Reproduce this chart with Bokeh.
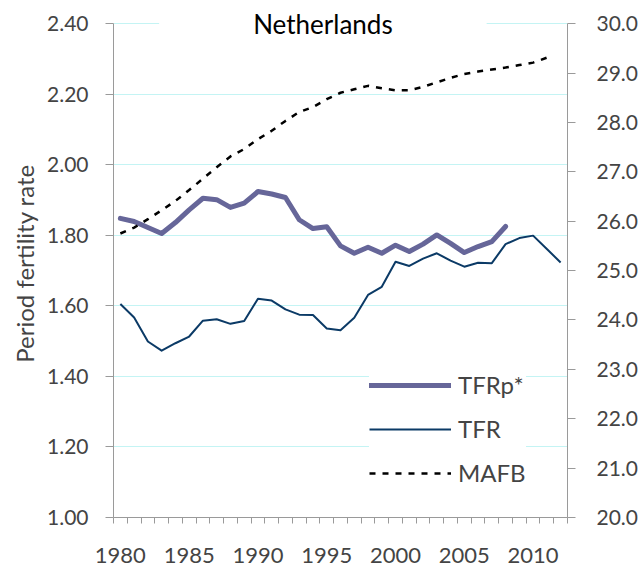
from bokeh.plotting import figure
from bokeh.models import (Range1d, LinearAxis, FixedTicker, NumeralTickFormatter,
                          Legend, LegendItem, Label)
from bokeh.embed import file_html
from bokeh.resources import INLINE

years = list(range(1980, 2013))
tfrp_years = list(range(1980, 2009))
tfrp = [1.848, 1.839, 1.822, 1.805, 1.836, 1.872, 1.905, 1.901, 1.879, 1.891,
        1.924, 1.917, 1.907, 1.844, 1.819, 1.824, 1.770, 1.749, 1.766, 1.749,
        1.772, 1.754, 1.775, 1.801, 1.777, 1.751, 1.768, 1.782, 1.825]
tfr_years = list(range(1980, 2013))
tfr = [1.605, 1.567, 1.499, 1.473, 1.494, 1.513, 1.558, 1.562, 1.549, 1.557,
       1.620, 1.615, 1.590, 1.575, 1.574, 1.536, 1.531, 1.566, 1.631, 1.654,
       1.725, 1.713, 1.734, 1.749, 1.728, 1.711, 1.722, 1.721, 1.775, 1.792,
       1.799, 1.761, 1.723]
mafb_years = list(range(1980, 2012))
mafb = [25.75, 25.87, 26.04, 26.22, 26.41, 26.63, 26.86, 27.09, 27.31, 27.46,
        27.66, 27.83, 28.03, 28.21, 28.31, 28.47, 28.60, 28.67, 28.74, 28.69,
        28.65, 28.65, 28.72, 28.81, 28.90, 28.98, 29.03, 29.07, 29.11, 29.16,
        29.21, 29.31]
x_tick_labels = [1980, 1985, 1990, 1995, 2000, 2005, 2010]
left_ticks = [1.0, 1.2, 1.4, 1.6, 1.8, 2.0, 2.2, 2.4]
right_ticks = [20, 21, 22, 23, 24, 25, 26, 27, 28, 29, 30]

FONT = "Lato"
AXIS_GRAY = "#9a9a9a"

# a little head-room above the top tick so the title can sit on the top line
L_LO, L_HI = left_ticks[0], left_ticks[-1]
R_LO, R_HI = right_ticks[0], right_ticks[-1]
head = 0.04
top_left = L_HI + head
top_right = R_LO + (R_HI - R_LO) * (top_left - L_LO) / (L_HI - L_LO)

p = figure(width=641, height=570, output_backend="svg", toolbar_location=None,
           x_range=Range1d(years[0] - 0.5, years[-1] + 0.5),
           y_range=Range1d(L_LO, top_left),
           min_border_left=113, min_border_right=74, min_border_top=9,
           min_border_bottom=53)
p.outline_line_color = None
p.background_fill_color = "white"
p.extra_y_ranges = {"mafb": Range1d(R_LO, top_right)}

# left axis
ya = p.yaxis[0]
ya.ticker = FixedTicker(ticks=left_ticks)
ya.bounds = (L_LO, L_HI)
ya.formatter = NumeralTickFormatter(format="0.00")
ya.axis_label = "Period fertility rate"
ya.axis_label_text_font = FONT
ya.axis_label_text_font_size = "24px"
ya.axis_label_text_font_style = "normal"
ya.axis_label_standoff = 5
ya.major_label_text_font = FONT
ya.major_label_text_font_size = "21px"
ya.major_label_standoff = 17
ya.axis_line_color = AXIS_GRAY
ya.major_tick_line_color = AXIS_GRAY
ya.major_tick_out = 8
ya.major_tick_in = 0
ya.minor_tick_line_color = None

# bottom axis
xa = p.xaxis[0]
xa.ticker = FixedTicker(ticks=x_tick_labels,
                        minor_ticks=[y - 0.5 for y in years] + [years[-1] + 0.5])
xa.major_tick_line_color = None
xa.major_label_text_font = FONT
xa.major_label_text_font_size = "22px"
xa.major_label_standoff = 24
xa.axis_line_color = AXIS_GRAY
xa.minor_tick_line_color = AXIS_GRAY
xa.minor_tick_out = 6
xa.minor_tick_in = 0

# right axis
ra = LinearAxis(y_range_name="mafb", ticker=FixedTicker(ticks=right_ticks),
                formatter=NumeralTickFormatter(format="0.0"),
                bounds=(R_LO, R_HI))
ra.major_label_text_font = FONT
ra.major_label_text_font_size = "21px"
ra.major_label_standoff = 21
ra.axis_line_color = AXIS_GRAY
ra.major_tick_line_color = AXIS_GRAY
ra.major_tick_out = 8
ra.major_tick_in = 0
ra.minor_tick_line_color = None
p.add_layout(ra, "right")

p.xgrid.grid_line_color = None
p.ygrid.ticker = FixedTicker(ticks=left_ticks)
p.ygrid.grid_line_color = "#c4f4f4"
p.ygrid.grid_line_width = 1

r_tfrp = p.line(tfrp_years, tfrp, line_color="#666699", line_width=5,
                line_join="round", line_cap="round")
r_tfr = p.line(tfr_years, tfr, line_color="#0b3a66", line_width=2,
               line_join="round")
r_mafb = p.line(mafb_years, mafb, y_range_name="mafb", line_color="black",
                line_width=2.5, line_dash="6 7")

legend = Legend(items=[LegendItem(label="TFRp*", renderers=[r_tfrp]),
                       LegendItem(label="TFR", renderers=[r_tfr]),
                       LegendItem(label="MAFB", renderers=[r_mafb])],
                location=(256, 30))
legend.label_text_font = FONT
legend.label_text_font_size = "24px"
legend.glyph_width = 82
legend.glyph_height = 24
legend.label_height = 24
legend.spacing = 15
legend.padding = 4
legend.margin = 0
legend.label_standoff = 7
legend.border_line_color = None
legend.background_fill_color = "white"
legend.background_fill_alpha = 1.0
p.add_layout(legend)

title = Label(x=1994.72, y=L_HI, text="Netherlands", text_align="center",
              text_baseline="middle", text_font=FONT, text_font_size="26px",
              text_color="black", background_fill_color="white",
              padding=(94, 3))
p.add_layout(title)

open("out.html", "w").write(file_html(p, INLINE))
